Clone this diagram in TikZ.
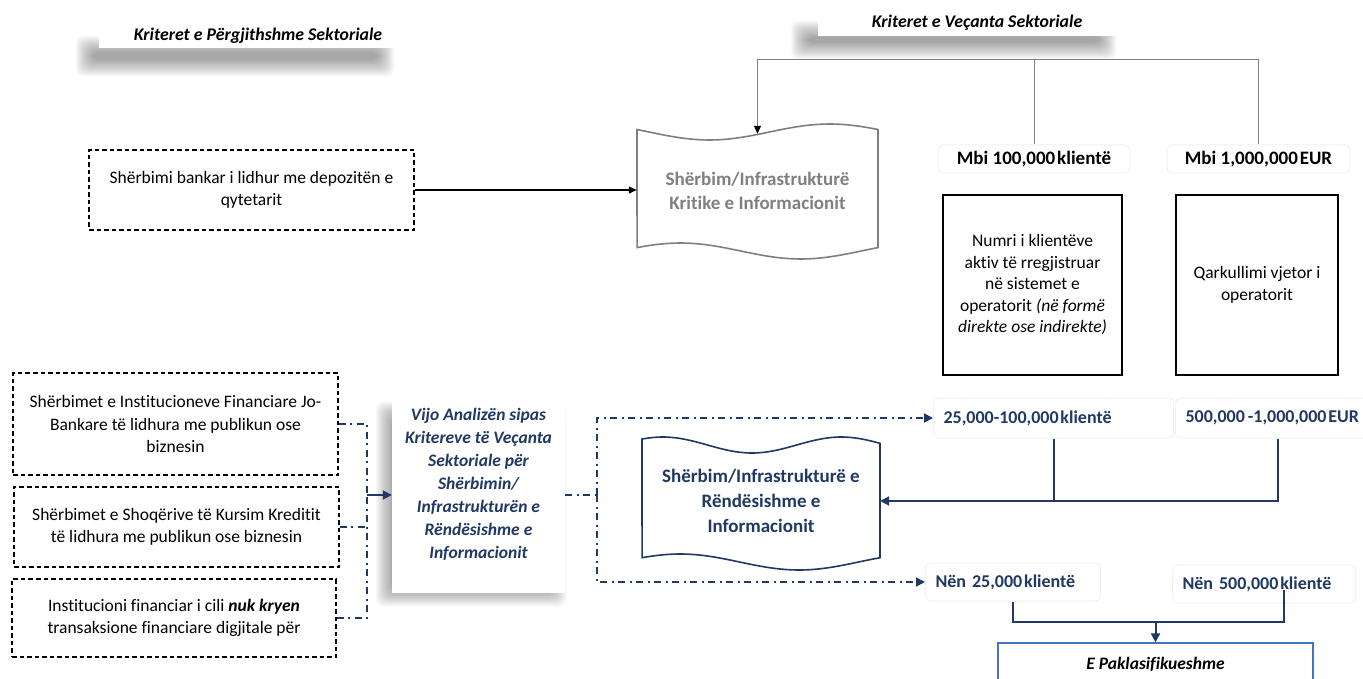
\documentclass[tikz,border=0pt]{standalone}
\usepackage{fontspec}
\setmainfont{Carlito}[Ligatures={NoCommon,NoContextual}]
\usetikzlibrary{arrows.meta,calc}
\definecolor{navy}{RGB}{31,56,100}
\definecolor{gline}{RGB}{127,127,127}
\definecolor{lblue}{RGB}{68,114,196}
\newcommand\myfs[2]{\fontsize{#1}{#2}\selectfont}
\begin{document}
\begin{tikzpicture}[x=1pt,y=-1pt,
  dbox/.style={draw=black, line width=1.2pt, dash pattern=on 4.5pt off 3pt, align=center, font=\myfs{17.5}{22.5}, inner sep=0pt},
  sbox/.style={draw=black, line width=1.3pt, align=center, font=\myfs{17.5}{21.5}, inner sep=0pt},
  lbl/.style={draw=black!5, line width=1pt, rounded corners=5pt, font=\bfseries\myfs{19}{22}, inner sep=0pt},
  nlbl/.style={draw=black!5, line width=1pt, rounded corners=5pt, font=\bfseries\myfs{18}{22}, text=navy, inner ysep=0pt, inner xsep=10pt, align=left, anchor=west},
  nl/.style={draw=navy, line width=2pt},
  ddot/.style={draw=navy, line width=1.8pt, dash pattern=on 7pt off 4.5pt on 2pt off 4.5pt},
  gl/.style={draw=gline, line width=1pt},
  tip/.style={-{Triangle[length=8pt,width=7pt,black]}},
  ntip/.style={-{Triangle[length=9pt,width=9pt]}},
  title/.style={fill=white, inner sep=0pt, font=\bfseries\itshape\myfs{17.8}{20}},
]
\useasboundingbox (0,0) rectangle (1363,679);
\fill[white] (0,0) rectangle (1363,679);

% ---- shadows ----
\foreach \i in {0,...,15} \fill[black,opacity=0.025,rounded corners=8pt] ({92-1.1*\i},{52-1.1*\i}) rectangle ({378+1.1*\i},{60+1.1*\i});
\foreach \i in {0,...,15} \fill[black,opacity=0.025,rounded corners=8pt] ({807-1.1*\i},{37-1.1*\i}) rectangle ({1100+1.1*\i},{43+1.1*\i});
\foreach \i in {0,...,15} \fill[black,opacity=0.025,rounded corners=8pt] ({392-1.1*\i},{418-1.1*\i}) rectangle ({550+1.1*\i},{590+1.1*\i});

% ---- titles ----
\node[title, minimum width=318pt, minimum height=25pt] (T1) at (258,35.5) {Kriteret e Përgjithshme Sektoriale};
\node[title, minimum width=318pt, minimum height=26pt] (T2) at (977,23) {Kriteret e Veçanta Sektoriale};

% ---- upper part ----
\node[dbox, minimum width=325pt, minimum height=80pt] (A) at (251.5,190) {Shërbimi bankar i lidhur me depozitën e\\qytetarit};

\draw[gline, line width=1.6pt, fill=white]
  plot[domain=0:1,samples=41] ({637+241*\x},{132+8*sin(360*(\x-0.05))})
  -- plot[domain=1:0,samples=41] ({637+241*\x},{251-8*sin(360*(\x+0.07))}) -- cycle;
\node[align=center, text=gline, font=\bfseries\myfs{19}{24}, minimum width=241pt, minimum height=114pt] (crit) at (757.5,191) {Shërbim/Infrastrukturë\\Kritike e Informacionit};

\node[lbl, minimum width=192pt, minimum height=28pt] (m1) at (1034,159) {Mbi 100,000\hspace{0.1em}klientë};
\node[lbl, minimum width=183pt, minimum height=28pt] (m2) at (1258.5,159) {Mbi 1,000,000\hspace{0.1em}EUR};

\node[sbox, minimum width=179pt, minimum height=180pt] (B) at (1032.5,285) {Numri i klientëve\\aktiv të rregjistruar\\në sistemet e\\operatorit \textit{(në formë}\\\textit{direkte ose indirekte)}};
\node[sbox, minimum width=162pt, minimum height=180pt] (C) at (1257,285) {Qarkullimi vjetor i\\operatorit};

\draw[line width=1.2pt, tip] (A.east) -- (A.east -| crit.west);
\draw[gl] (m1.north) -- (m1.north |- 0,60);
\draw[gl, tip] (m2.north) |- (crit.north |- 0,60) -- (crit.north);

% ---- lower part ----
\node[dbox, minimum width=325pt, minimum height=102pt] (D1) at (175.5,424) {Shërbimet e Institucioneve Financiare Jo-\\Bankare të lidhura me publikun ose\\biznesin};
\node[dbox, minimum width=325pt, minimum height=80pt] (D2) at (176.5,527) {Shërbimet e Shoqërive të Kursim Kreditit\\të lidhura me publikun ose biznesin};
\node[dbox, minimum width=324pt, minimum height=78pt] (D3) at (174,618) {Institucioni financiar i cili \textbf{\textit{nuk kryen}}\\transaksione financiare digjitale për};

\fill[white] (392,398) rectangle (565,593);
\node[minimum width=173pt, minimum height=172pt, inner sep=0pt, align=center, text=navy, font=\bfseries\itshape\myfs{17.5}{23}] (V) at (478.5,484) {Vijo Analizën sipas\\Kritereve të Veçanta\\Sektoriale për\\Shërbimin/\\Infrastrukturën e\\Rëndësishme e\\Informacionit};

\coordinate (bus) at (367,495);
\draw[ddot] (D1.east) -| (bus);
\draw[ddot] (D3.east) -| (bus);
\draw[ddot] (D2.east) -- (D2.east -| bus);
\draw[line width=1.8pt, draw=navy, ntip] (bus) -- (bus -| V.west);

\draw[navy, line width=1.6pt, fill=white]
  plot[domain=0:1,samples=41] ({642+238*\x},{445-8*sin(360*(\x+0.1)/0.75)})
  -- plot[domain=1:0,samples=41] ({642+238*\x},{562-8*sin(360*(\x+0.09))}) -- cycle;
\node[align=center, text=navy, font=\bfseries\myfs{19}{25}, minimum width=238pt, minimum height=100pt] (blue) at (761,501) {Shërbim/Infrastrukturë e\\Rëndësishme e\\Informacionit};

\node[nlbl, text width=220pt, minimum height=40pt] (L1) at (933,418) {25,000-100,000\hspace{0.1em}klientë};
\node[nlbl, text width=184pt, minimum height=40pt] (L2) at (1175,418) {500,000\,-1,000,000\hspace{0.1em}EUR};
\node[nlbl, text width=155pt, minimum height=38pt] (L3) at (925,582) {Nën 25,000\hspace{0.1em}klientë};
\node[nlbl, text width=163pt, minimum height=38pt] (L4) at (1172,584) {Nën 500,000\hspace{0.1em}klientë};

\coordinate (bus2) at (597,495);
\draw[ddot] (bus -| V.east) -- (bus2);
\draw[ddot, ntip] (bus2) |- (L1.west);
\draw[ddot, ntip] (bus2) |- (L3.west);

\draw[nl] (L1.south) -- (L1.south |- blue.east);
\draw[nl, ntip] (L2.south) |- (blue.east);

\node[draw=lblue, line width=1.3pt, fill=white, minimum width=315pt, minimum height=42pt, inner sep=0pt, font=\bfseries\itshape\myfs{17.5}{21}] (E) at (1155.5,664) {E Paklasifikueshme};
\coordinate (mg) at ($(E.north)+(0,-20)$);
\draw[nl] (L3.south) |- (mg);
\draw[nl] ([xshift=20pt,yshift=-6pt]L4.center) |- (mg);
\draw[nl, ntip] (mg) -- (E.north);
\end{tikzpicture}
\end{document}
